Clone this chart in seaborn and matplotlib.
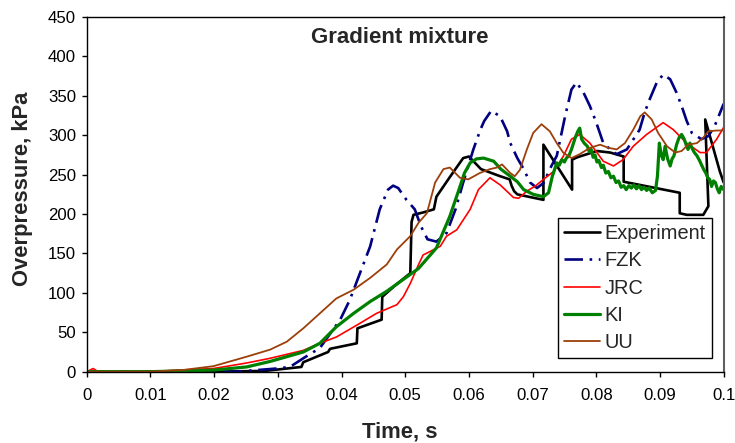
import matplotlib
matplotlib.use('Agg')
import matplotlib.pyplot as plt
import seaborn as sns
import pandas as pd

# ---------------- data ----------------
exp_t = [0.0, 0.010, 0.020, 0.0280, 0.0337, 0.0340, 0.0379, 0.0382, 0.0424, 0.0425,
         0.0463, 0.0464, 0.0485, 0.0508, 0.0510, 0.0513, 0.0528, 0.0545, 0.0549, 0.0571,
         0.0591, 0.0600, 0.0619, 0.0649, 0.0664, 0.0667, 0.0671, 0.0676, 0.0717, 0.0717,
         0.0762, 0.0762, 0.0770, 0.0801, 0.0822, 0.0843, 0.0843, 0.0931, 0.0931, 0.0942,
         0.0968, 0.0976, 0.0971, 0.0994, 0.1000]
exp_p = [0, 0, 0, 1, 6, 12, 25, 29, 36, 55,
         66, 95, 110, 125, 190, 199, 202, 206, 222, 248,
         271, 273, 257, 248, 244, 236, 229, 225, 218, 288,
         231, 269, 272, 280, 278, 273, 241, 227, 201, 199,
         199, 210, 320, 254, 240]

fzk_t = [0.0, 0.010, 0.020, 0.0235, 0.0298, 0.0319, 0.0340, 0.0366, 0.0398, 0.0413,
         0.0429, 0.0445, 0.0460, 0.0473, 0.0481, 0.0489, 0.0502, 0.0515, 0.0525, 0.0535,
         0.0549, 0.0565, 0.0579, 0.0591, 0.0607, 0.0618, 0.0624, 0.0635, 0.0649, 0.0660,
         0.0665, 0.0676, 0.0686, 0.0696, 0.0707, 0.0718, 0.0727, 0.0738, 0.0751, 0.0761,
         0.0769, 0.0780, 0.0790, 0.0800, 0.0811, 0.0822, 0.0832, 0.0848, 0.0868, 0.0876,
         0.0884, 0.0895, 0.0905, 0.0916, 0.0926, 0.0934, 0.0942, 0.0950, 0.0965, 0.0976,
         0.0986, 0.1000]
fzk_p = [0, 0, 0, 0, 4, 6, 17, 30, 66, 91,
         125, 159, 206, 231, 236, 233, 218, 206, 184, 168,
         165, 176, 206, 240, 282, 307, 318, 331, 324, 305,
         290, 271, 257, 240, 233, 240, 257, 274, 324, 358,
         367, 354, 337, 316, 290, 282, 276, 282, 307, 329,
         346, 367, 377, 371, 354, 337, 318, 303, 295, 299,
         312, 340]

jrc_t = [0.0, 0.0005, 0.0010, 0.0016, 0.0030, 0.0120, 0.0199, 0.0251, 0.0288, 0.0340,
         0.0366, 0.0392, 0.0424, 0.0455, 0.0487, 0.0497, 0.0508, 0.0521, 0.0528, 0.0555,
         0.0565, 0.0581, 0.0602, 0.0615, 0.0633, 0.0649, 0.0670, 0.0678, 0.0691, 0.0705,
         0.0717, 0.0733, 0.0748, 0.0761, 0.0774, 0.0790, 0.0811, 0.0827, 0.0842, 0.0858,
         0.0879, 0.0905, 0.0921, 0.0942, 0.0963, 0.0973, 0.0989, 0.1000]
jrc_p = [0, 2, 4, 1, 0, 1, 4, 11, 17, 27,
         36, 44, 59, 74, 85, 95, 112, 136, 148, 159,
         172, 180, 206, 231, 246, 237, 221, 220, 229, 236,
         244, 254, 273, 295, 301, 290, 267, 261, 269, 286,
         301, 316, 307, 290, 278, 278, 295, 310]

ki_t = [0.0, 0.010, 0.0199, 0.0251, 0.0288, 0.0340, 0.0366, 0.0392, 0.0419, 0.0445,
        0.0471, 0.0497, 0.0521, 0.0549, 0.0570, 0.0584, 0.0593, 0.0602, 0.0612, 0.0623,
        0.0639, 0.0650, 0.0665, 0.0676, 0.0686, 0.0701, 0.0717, 0.0725, 0.0731, 0.0738,
        0.0742, 0.0746, 0.0750, 0.0753, 0.0757, 0.0761, 0.0767, 0.0771, 0.0774, 0.0777,
        0.0781, 0.0786, 0.0789, 0.0792, 0.0795, 0.0798, 0.0801, 0.0804, 0.0808, 0.0811,
        0.0815, 0.0819, 0.0823, 0.0827, 0.0831, 0.0835, 0.0839, 0.0843, 0.0847, 0.0851,
        0.0855, 0.0859, 0.0863, 0.0867, 0.0871, 0.0875, 0.0879, 0.0883, 0.0888, 0.0893,
        0.0896, 0.0899, 0.0902, 0.0905, 0.0908, 0.0912, 0.0916, 0.0919, 0.0922, 0.0926,
        0.0930, 0.0934, 0.0938, 0.0941, 0.0944, 0.0947, 0.0950, 0.0954, 0.0958, 0.0962,
        0.0966, 0.0969, 0.0972, 0.0975, 0.0978, 0.0981, 0.0984, 0.0987, 0.0990, 0.0993,
        0.0996, 0.1000]
ki_p = [0, 0, 2, 6, 13, 25, 36, 57, 74, 89,
        102, 117, 131, 157, 197, 230, 252, 265, 270, 271,
        267, 257, 248, 241, 231, 225, 222, 227, 248, 265,
        262, 269, 266, 271, 274, 282, 297, 305, 309, 295,
        290, 286, 279, 282, 272, 275, 266, 268, 259, 262,
        252, 254, 246, 248, 240, 242, 234, 236, 231, 236,
        233, 237, 232, 236, 231, 234, 230, 233, 227, 230,
        248, 290, 275, 269, 286, 270, 261, 270, 274, 288,
        297, 301, 295, 288, 282, 290, 284, 278, 274, 268,
        261, 256, 252, 246, 244, 235, 242, 240, 232, 227,
        235, 231]

uu_t = [0.0, 0.010, 0.015, 0.0199, 0.0251, 0.0288, 0.0314, 0.0340, 0.0366, 0.0392,
        0.0419, 0.0445, 0.0471, 0.0487, 0.0508, 0.0521, 0.0534, 0.0547, 0.0560, 0.0570,
        0.0586, 0.0599, 0.0617, 0.0633, 0.0644, 0.0652, 0.0665, 0.0672, 0.0680, 0.0691,
        0.0701, 0.0714, 0.0727, 0.0738, 0.0748, 0.0761, 0.0774, 0.0790, 0.0806, 0.0819,
        0.0832, 0.0845, 0.0858, 0.0869, 0.0876, 0.0887, 0.0897, 0.0911, 0.0924, 0.0934,
        0.0944, 0.0958, 0.0968, 0.0976, 0.0989, 0.1000]
uu_p = [0, 0, 2, 7, 19, 28, 38, 55, 74, 93,
        104, 119, 136, 155, 172, 189, 201, 240, 257, 259,
        246, 244, 252, 257, 259, 263, 252, 248, 256, 282,
        303, 314, 305, 290, 278, 271, 276, 284, 288, 284,
        282, 290, 307, 324, 329, 320, 303, 286, 278, 280,
        288, 290, 297, 305, 306, 306]

x_ticks = [0, 0.01, 0.02, 0.03, 0.04, 0.05, 0.06, 0.07, 0.08, 0.09, 0.1]
x_tick_labels = ["0", "0.01", "0.02", "0.03", "0.04", "0.05", "0.06", "0.07", "0.08", "0.09", "0.1"]
y_ticks = [0, 50, 100, 150, 200, 250, 300, 350, 400, 450]

series = [
    ("Experiment", exp_t, exp_p),
    ("FZK", fzk_t, fzk_p),
    ("JRC", jrc_t, jrc_p),
    ("KI", ki_t, ki_p),
    ("UU", uu_t, uu_p),
]
styles = {
    "Experiment": dict(color="#000000", lw=1.9),
    "FZK": dict(color="#000080", lw=1.9, linestyle=(0, (7, 2.5, 1, 2.5))),
    "JRC": dict(color="#FF0000", lw=1.2),
    "KI": dict(color="#008000", lw=2.3),
    "UU": dict(color="#9C3F0A", lw=1.3),
}

# ---------------- plotting ----------------
sns.set_style("ticks")
plt.rcParams['font.family'] = ['Liberation Sans', 'DejaVu Sans']

fig = plt.figure(figsize=(7.35, 4.43), dpi=100)
ax = fig.add_axes([0.118, 0.161, 0.8666, 0.8006])

for name, t, p in series:
    df = pd.DataFrame({"t": t, "p": p})
    sns.lineplot(data=df, x="t", y="p", sort=False, estimator=None,
                 label=name, ax=ax, **styles[name])

ax.set_xlim(0, 0.1)
ax.set_ylim(0, 450)
ax.set_xticks(x_ticks)
ax.set_xticklabels(x_tick_labels)
ax.set_yticks(y_ticks)

for s in ax.spines.values():
    s.set_visible(True)
    s.set_color("black")
    s.set_linewidth(1.0)
ax.spines['right'].set_color('#606060')
ax.spines['right'].set_linewidth(1.5)

ax.tick_params(axis='both', direction='out', length=3.6, width=1.0,
               labelsize=12.1, colors='black')
ax.tick_params(axis='x', pad=8)
ax.tick_params(axis='y', pad=4)

ax.set_xlabel("Time, s", fontsize=15.8, fontweight='bold')
ax.set_ylabel("Overpressure, kPa", fontsize=15.8, fontweight='bold')
ax.xaxis.label.set_va('center')
ax.yaxis.label.set_va('center')
ax.xaxis.set_label_coords(0.4917, -0.170)
ax.yaxis.set_label_coords(-0.1016, 0.5165)

ax.text(0.492, 0.941, "Gradient mixture", transform=ax.transAxes,
        ha='center', va='center', fontsize=16, fontweight='bold')

leg = ax.legend(loc='upper right', bbox_to_anchor=(0.981, 0.4325),
                borderaxespad=0, frameon=True, fancybox=False, shadow=False,
                fontsize=14.4, handlelength=1.8, handletextpad=0.25,
                labelspacing=0.42, borderpad=0.28)
leg.get_frame().set_edgecolor('black')
leg.get_frame().set_linewidth(1.0)
leg.get_frame().set_alpha(1.0)

fig.savefig("out.png", dpi=100, facecolor='white')
